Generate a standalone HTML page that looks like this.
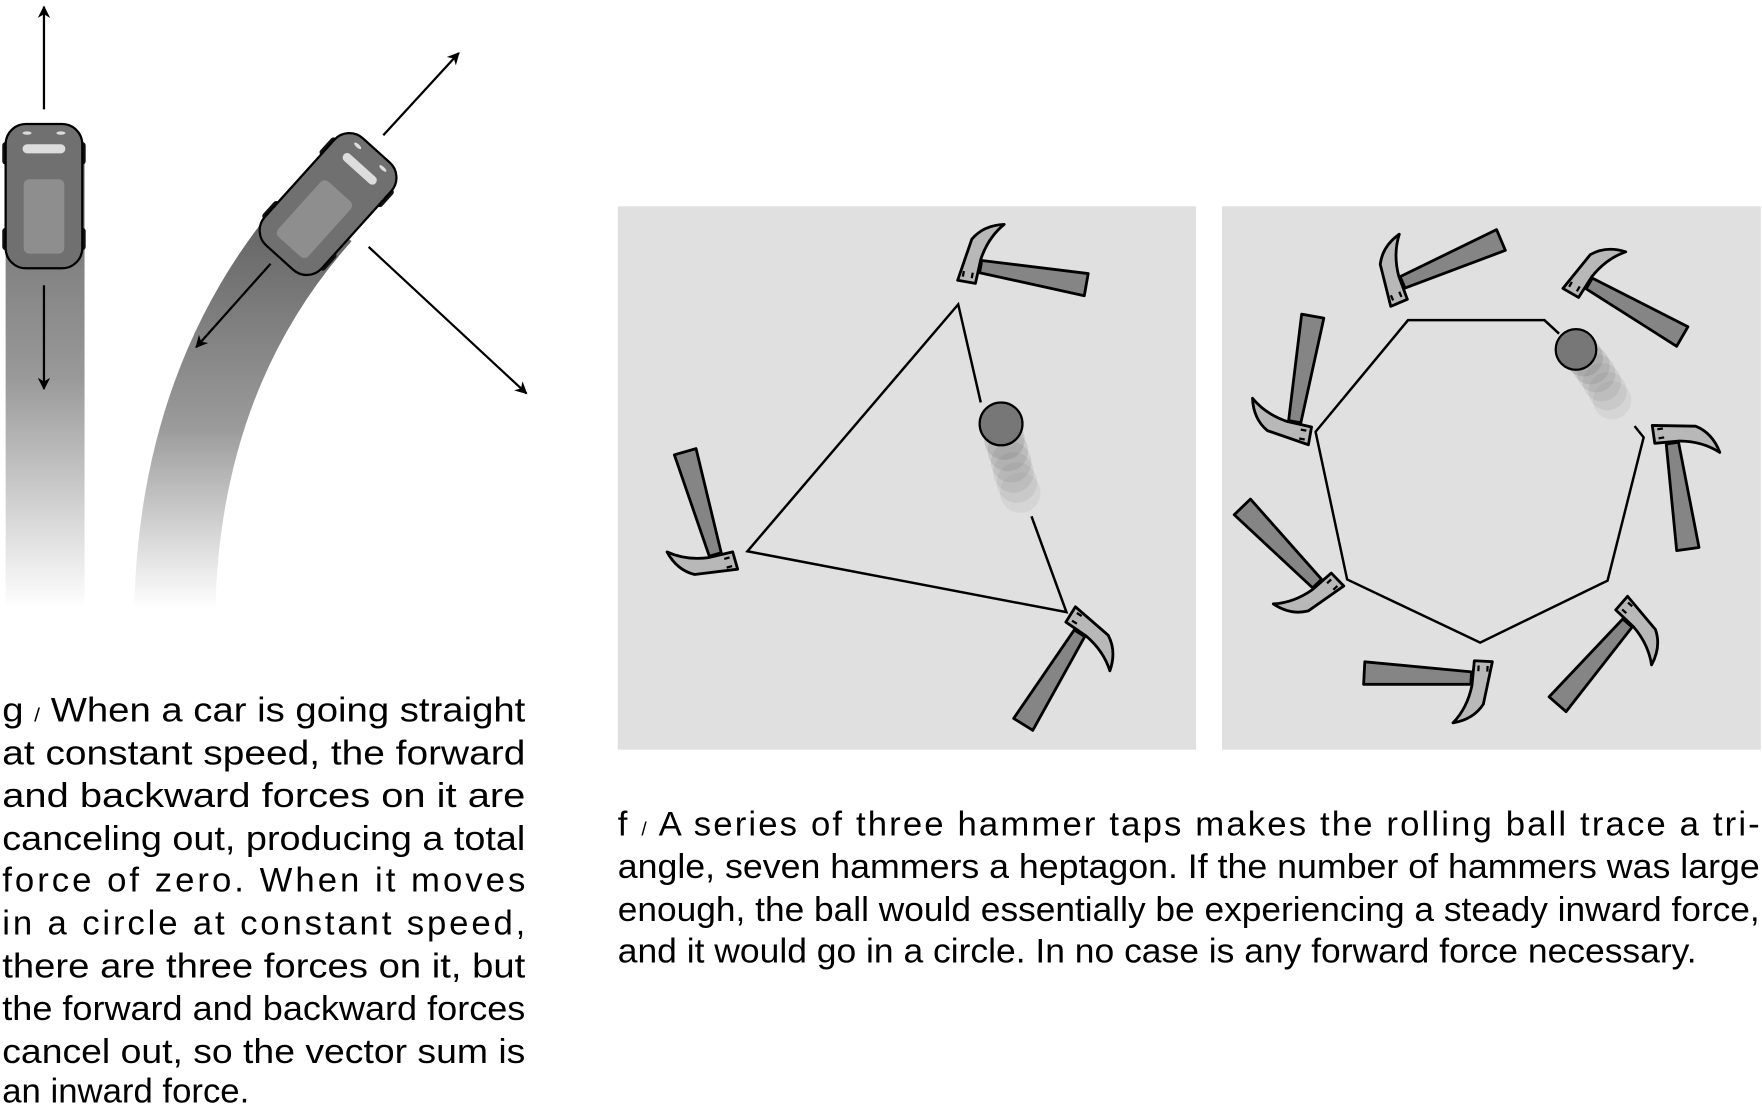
<!DOCTYPE html>
<html><head><meta charset="utf-8"><style>
html,body{margin:0;padding:0;background:#fff;}
svg{display:block;}
text{font-family:"Liberation Sans",sans-serif;font-size:30.8px;fill:#000;}
</style></head><body>
<svg width="1762" height="1104" viewBox="0 0 1563 979.3" preserveAspectRatio="none" xmlns="http://www.w3.org/2000/svg">
<defs>
<linearGradient id="road1" x1="0" y1="0" x2="0" y2="1">
<stop offset="0" stop-color="#6a6a6a"/><stop offset="0.5" stop-color="#999"/><stop offset="1" stop-color="#fff"/>
</linearGradient>
<linearGradient id="road2" gradientUnits="userSpaceOnUse" x1="0" y1="180" x2="0" y2="540">
<stop offset="0" stop-color="#606060"/><stop offset="0.55" stop-color="#9a9a9a"/><stop offset="1" stop-color="#fff"/>
</linearGradient>
<marker id="ah" viewBox="0 0 10 10" refX="9" refY="5" markerWidth="13" markerHeight="11" orient="auto-start-reverse" markerUnits="userSpaceOnUse">
<path d="M0,0 L10,5 L0,10 L3,5 Z" fill="#000"/></marker>
<g id="car">
<rect x="-37" y="-48" width="6" height="20" rx="3" fill="#111"/>
<rect x="31" y="-48" width="6" height="20" rx="3" fill="#111"/>
<rect x="-37" y="28" width="6" height="20" rx="3" fill="#111"/>
<rect x="31" y="28" width="6" height="20" rx="3" fill="#111"/>
<rect x="-34" y="-64" width="68" height="128" rx="18" fill="#707070" stroke="#000" stroke-width="2"/>
<rect x="-18" y="-15" width="36" height="66" rx="5" fill="#8e8e8e"/>
<rect x="-19" y="-46" width="38" height="8" rx="4" fill="#ddd"/>
<ellipse cx="-15" cy="-56" rx="4" ry="1.5" fill="#ddd"/>
<ellipse cx="15" cy="-56" rx="4" ry="1.5" fill="#ddd"/>
</g>
<g id="ham">
<polygon points="0,-5 95,-10 95,10 0,6" fill="#858585" stroke="#000" stroke-width="2.5" stroke-linejoin="round"/>
<path d="M-18,16 L-2,16 L-1,-6 Q2,-26 14,-40 Q-4,-36 -12,-22 Z" fill="#b8b8b8" stroke="#000" stroke-width="2.5" stroke-linejoin="round"/>
<path d="M-14,12 L-14,7 M-6,12 L-6,7" stroke="#000" stroke-width="2"/>
</g>
</defs>

<rect x="5" y="130" width="70" height="410" fill="url(#road1)"/>
<line x1="39" y1="97" x2="39" y2="6" stroke="#000" stroke-width="2" marker-end="url(#ah)"/>
<line x1="39" y1="253" x2="39" y2="345" stroke="#000" stroke-width="2" marker-end="url(#ah)"/>
<use href="#car" transform="translate(39,174)"/>

<path d="M285,190 Q160,330 155,540" fill="none" stroke="url(#road2)" stroke-width="72"/>
<line x1="340" y1="120" x2="407" y2="47" stroke="#000" stroke-width="2" marker-end="url(#ah)"/>
<line x1="240" y1="234" x2="174" y2="308" stroke="#000" stroke-width="2" marker-end="url(#ah)"/>
<line x1="327" y1="219" x2="467" y2="349" stroke="#000" stroke-width="2" marker-end="url(#ah)"/>
<use href="#car" transform="translate(291,181) rotate(42)"/>

<rect x="548" y="183" width="513" height="482" fill="#e0e0e0"/>
<rect x="1084" y="183" width="478" height="482" fill="#e0e0e0"/>

<polyline points="870,357 850,270 663,489 946,543 915,458" fill="none" stroke="#000" stroke-width="2.2"/>
<g fill="#777">
<circle cx="905" cy="437" r="18" opacity="0.1"/><circle cx="902" cy="428" r="18" opacity="0.12"/>
<circle cx="899" cy="419" r="18" opacity="0.14"/><circle cx="897" cy="410" r="18" opacity="0.17"/>
<circle cx="894" cy="400" r="18" opacity="0.2"/><circle cx="891" cy="390" r="18" opacity="0.25"/>
</g>
<circle cx="888" cy="376" r="19" fill="#777" stroke="#000" stroke-width="2"/>
<use href="#ham" transform="translate(870,236) rotate(10)"/>
<use href="#ham" transform="translate(634,492) rotate(-106)"/>
<use href="#ham" transform="translate(958,562) rotate(122)"/>

<polyline points="1383,296 1370,284 1249,284 1167,383 1195,514 1313,570 1426,515 1458,388 1450,378" fill="none" stroke="#000" stroke-width="2.2"/>
<g fill="#777">
<circle cx="1430" cy="355" r="17" opacity="0.1"/><circle cx="1426" cy="347" r="17" opacity="0.12"/>
<circle cx="1421" cy="339" r="17" opacity="0.14"/><circle cx="1416" cy="331" r="17" opacity="0.17"/>
<circle cx="1411" cy="324" r="17" opacity="0.2"/><circle cx="1405" cy="317" r="17" opacity="0.25"/>
</g>
<circle cx="1398" cy="310" r="18" fill="#777" stroke="#000" stroke-width="2"/>
<use href="#ham" transform="translate(1244,250) rotate(-23)"/>
<use href="#ham" transform="translate(1410,251) rotate(30)"/>
<use href="#ham" transform="translate(1484,393) rotate(82)"/>
<use href="#ham" transform="translate(1444,553) rotate(131)"/>
<use href="#ham" transform="translate(1305,602) rotate(183)"/>
<use href="#ham" transform="translate(1168,518) rotate(-134)"/>
<use href="#ham" transform="translate(1148,374) rotate(-80)"/>

<g>
<text x="2" y="640" textLength="464" lengthAdjust="spacingAndGlyphs">g <tspan font-size="17">/</tspan> When a car is going straight</text>
<text x="2" y="678" textLength="464" lengthAdjust="spacingAndGlyphs">at constant speed, the forward</text>
<text x="2" y="716" textLength="464" lengthAdjust="spacingAndGlyphs">and backward forces on it are</text>
<text x="2" y="754" textLength="464" lengthAdjust="spacingAndGlyphs">canceling out, producing a total</text>
<text x="2" y="791" textLength="464" lengthAdjust="spacing">force of zero.  When it moves</text>
<text x="2" y="829" textLength="464" lengthAdjust="spacing">in a circle at constant speed,</text>
<text x="2" y="867" textLength="464" lengthAdjust="spacingAndGlyphs">there are three forces on it, but</text>
<text x="2" y="905" textLength="464" lengthAdjust="spacingAndGlyphs">the forward and backward forces</text>
<text x="2" y="943" textLength="464" lengthAdjust="spacingAndGlyphs">cancel out, so the vector sum is</text>
<text x="2" y="978">an inward force.</text>
</g>
<g>
<text x="548" y="741" textLength="1013" lengthAdjust="spacing">f <tspan font-size="17">/</tspan> A series of three hammer taps makes the rolling ball trace a tri-</text>
<text x="548" y="779" textLength="1013" lengthAdjust="spacingAndGlyphs">angle, seven hammers a heptagon. If the number of hammers was large</text>
<text x="548" y="817" textLength="1013" lengthAdjust="spacingAndGlyphs">enough, the ball would essentially be experiencing a steady inward force,</text>
<text x="548" y="854" textLength="957" lengthAdjust="spacingAndGlyphs">and it would go in a circle. In no case is any forward force necessary.</text>
</g>
</svg>
</body></html>
